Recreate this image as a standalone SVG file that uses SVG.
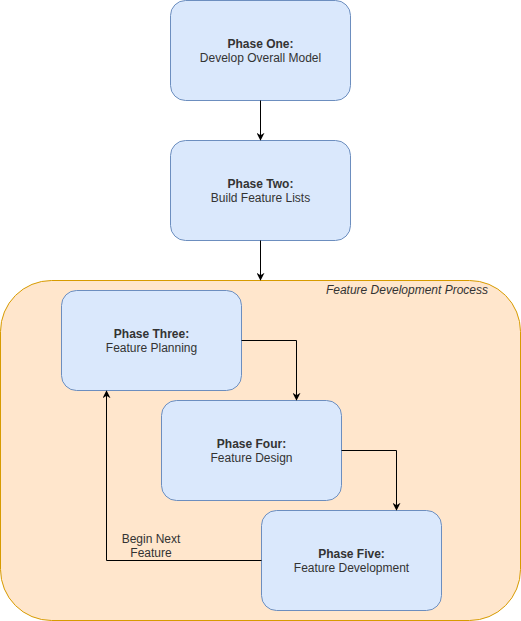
<svg xmlns="http://www.w3.org/2000/svg" width="521" height="621" viewBox="0 0 521 621">
<style>
.node{fill:#dae8fc;stroke:#6c8ebf;stroke-width:1}
.cont{fill:#ffe6cc;stroke:#d79b00;stroke-width:1}
.edge{fill:none;stroke:#000;stroke-width:1}
text{font-family:"Liberation Sans",Arial,Helvetica,sans-serif;font-size:12px;fill:#333333}
.t{text-anchor:middle}
.b{font-weight:bold}
.it{font-style:italic;text-anchor:end}
</style>
<defs>
<marker id="arr" viewBox="0 0 10 10" refX="9" refY="5" markerWidth="8" markerHeight="8" markerUnits="userSpaceOnUse" orient="auto">
<path d="M0,0 L10,5 L0,10 L3,5 Z" fill="#000"/>
</marker>
</defs>
<g id="container">
<rect class="cont" x="0.5" y="280.5" width="520" height="340" rx="51" ry="51"/>
<text class="it" x="488" y="294">Feature Development Process</text>
</g>
<g id="phase1">
<rect class="node" x="170.5" y="0.5" width="180" height="100" rx="15" ry="15"/>
<text class="t b" x="260.5" y="48">Phase One:</text>
<text class="t" x="260.5" y="62">Develop Overall Model</text>
</g>
<g id="phase2">
<rect class="node" x="170.5" y="140.5" width="180" height="100" rx="15" ry="15"/>
<text class="t b" x="260.5" y="188">Phase Two:</text>
<text class="t" x="260.5" y="202">Build Feature Lists</text>
</g>
<g id="phase3">
<rect class="node" x="61.5" y="290.5" width="180" height="100" rx="15" ry="15"/>
<text class="t b" x="151.5" y="338">Phase Three:</text>
<text class="t" x="151.5" y="352">Feature Planning</text>
</g>
<g id="phase4">
<rect class="node" x="161.5" y="400.5" width="180" height="100" rx="15" ry="15"/>
<text class="t b" x="251.5" y="448">Phase Four:</text>
<text class="t" x="251.5" y="462">Feature Design</text>
</g>
<g id="phase5">
<rect class="node" x="261.5" y="510.5" width="180" height="100" rx="15" ry="15"/>
<text class="t b" x="351.5" y="558">Phase Five:</text>
<text class="t" x="351.5" y="572">Feature Development</text>
</g>
<g id="connectors">
<path class="edge" d="M260.5,100.5 V140" marker-end="url(#arr)"/>
<path class="edge" d="M260.5,240.5 V280" marker-end="url(#arr)"/>
<path class="edge" d="M241.5,340.5 H296.5 V400" marker-end="url(#arr)"/>
<path class="edge" d="M341.5,450.5 H396.5 V510" marker-end="url(#arr)"/>
<path class="edge" d="M261.5,560.5 H106.5 V391" marker-end="url(#arr)"/>
<text class="t" x="151" y="543">Begin Next</text>
<text class="t" x="151" y="557">Feature</text>
</g>
</svg>
